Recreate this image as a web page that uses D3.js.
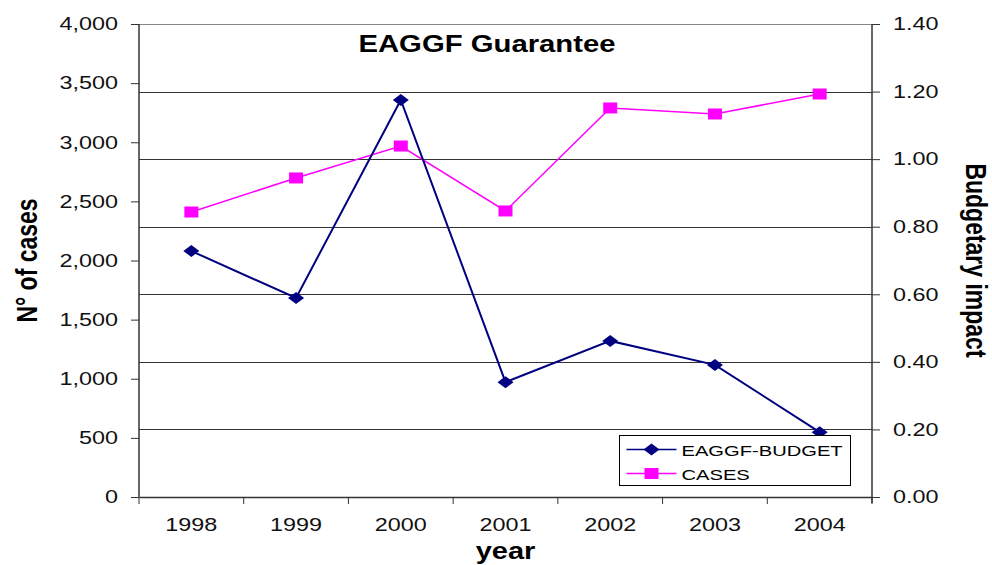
<!DOCTYPE html>
<html>
<head>
<meta charset="utf-8">
<script src="https://cdn.jsdelivr.net/npm/d3@7"></script>
<style>
body { margin: 0; background: #fff; }
svg { font-family: Arial, "Liberation Sans", sans-serif; }
</style>
</head>
<body>
<svg id="chart" width="992" height="565"></svg>
<script>
const years = ["1998", "1999", "2000", "2001", "2002", "2003", "2004"];
const budget = [0.728, 0.589, 1.175, 0.340, 0.462, 0.391, 0.192];
const cases = [2410, 2698, 2968, 2419, 3290, 3239, 3408];
const leftTicks = [0, 500, 1000, 1500, 2000, 2500, 3000, 3500, 4000];
const rightTicks = [0, 0.2, 0.4, 0.6, 0.8, 1.0, 1.2, 1.4];

const svg = d3.select("#chart");
const margin = { top: 24, right: 120, bottom: 68, left: 139 };
const width = 992, height = 565;
const sx = 1.3; // o grafico original esta esticado na horizontal

// escalas
const x = d3.scaleBand()
  .domain(years)
  .range([margin.left, width - margin.right]);

const yLeft = d3.scaleLinear()
  .domain([0, 4000])
  .range([height - margin.bottom, margin.top]);

const yRight = d3.scaleLinear()
  .domain([0, 1.4])
  .range([height - margin.bottom, margin.top]);

// linhas de grade (eixo direito)
svg.append("g")
  .selectAll("line")
  .data(rightTicks.slice(1))
  .join("line")
  .attr("x1", margin.left)
  .attr("x2", width - margin.right)
  .attr("y1", d => Math.round(yRight(d)) + 0.5)
  .attr("y2", d => Math.round(yRight(d)) + 0.5)
  .attr("stroke", (d, i) => i === rightTicks.length - 2 ? "#888" : "#333")
  .attr("stroke-width", 1);

// eixo esquerdo
const axL = svg.append("g")
  .attr("transform", `translate(${margin.left}, 0)`)
  .call(d3.axisLeft(yLeft).tickValues(leftTicks).tickFormat(d3.format(",")).tickSize(8));

// eixo direito
const axR = svg.append("g")
  .attr("transform", `translate(${width - margin.right}, 0)`)
  .call(d3.axisRight(yRight).tickValues(rightTicks).tickFormat(d3.format(".2f")).tickSize(8));

// eixo x
const axX = svg.append("g")
  .attr("transform", `translate(0, ${height - margin.bottom})`)
  .call(d3.axisBottom(x).tickSize(0));

[axL, axR, axX].forEach(a => {
  a.select(".domain").attr("stroke", "#333").attr("stroke-width", 1.5);
  a.selectAll(".tick line").attr("stroke", "#333");
  a.selectAll("text").attr("font-size", 18).attr("fill", "#111")
    .attr("font-family", "Arial, 'Liberation Sans', sans-serif");
});
axL.select(".domain").attr("d", `M0,${margin.top}V${height - margin.bottom}`);
axR.select(".domain").attr("d", `M0,${margin.top}V${height - margin.bottom + 6}`);
axL.selectAll("text").attr("x", 0).attr("transform", `translate(-21,0) scale(${sx},1)`);
axR.selectAll("text").attr("x", 0).attr("transform", `translate(21,0) scale(${sx},1)`);
axX.selectAll("text").attr("y", 34).attr("dy", 0).attr("transform", `scale(${sx},1)`);

// marcas do eixo x nas divisas das categorias
svg.append("g")
  .selectAll("line")
  .data(years.concat(["end"]))
  .join("line")
  .attr("x1", (d, i) => margin.left + i * x.step())
  .attr("x2", (d, i) => margin.left + i * x.step())
  .attr("y1", height - margin.bottom)
  .attr("y2", height - margin.bottom + 7)
  .attr("stroke", "#333");

const cx = d => x(d) + x.bandwidth() / 2;

// linha CASES
svg.append("path")
  .datum(cases)
  .attr("fill", "none")
  .attr("stroke", "#ff00ff")
  .attr("stroke-width", 1.5)
  .attr("d", d3.line().x((d, i) => cx(years[i])).y(d => yLeft(d)));

svg.append("g")
  .selectAll("rect")
  .data(cases)
  .join("rect")
  .attr("x", (d, i) => cx(years[i]) - 7)
  .attr("y", d => yLeft(d) - 5.5)
  .attr("width", 14)
  .attr("height", 11)
  .attr("fill", "#ff00ff");

// linha EAGGF-BUDGET
svg.append("path")
  .datum(budget)
  .attr("fill", "none")
  .attr("stroke", "#000080")
  .attr("stroke-width", 2)
  .attr("d", d3.line().x((d, i) => cx(years[i])).y(d => yRight(d)));

const diamond = "M0,-6L8,0L0,6L-8,0Z";
svg.append("g")
  .selectAll("path")
  .data(budget)
  .join("path")
  .attr("transform", (d, i) => `translate(${cx(years[i])},${yRight(d)})`)
  .attr("d", diamond)
  .attr("fill", "#000080");

// titulo
svg.append("text")
  .attr("transform", `translate(487, 52) scale(${sx * 0.98},1)`)
  .attr("text-anchor", "middle")
  .attr("font-size", 23).attr("font-weight", "bold")
  .text("EAGGF Guarantee");

// titulos dos eixos
const midY = (margin.top + height - margin.bottom) / 2;
svg.append("text")
  .attr("transform", `translate(37, ${midY}) rotate(-90) scale(1,${sx})`)
  .attr("text-anchor", "middle")
  .attr("font-size", 23).attr("font-weight", "bold")
  .text("N° of cases");

svg.append("text")
  .attr("transform", `translate(966, ${midY}) rotate(90) scale(1,1.25)`)
  .attr("text-anchor", "middle")
  .attr("font-size", 23).attr("font-weight", "bold")
  .text("Budgetary impact");

svg.append("text")
  .attr("transform", `translate(${(margin.left + width - margin.right) / 2}, 559) scale(${sx * 0.97},1)`)
  .attr("text-anchor", "middle")
  .attr("font-size", 23).attr("font-weight", "bold")
  .text("year");

// legenda
const legend = svg.append("g").attr("transform", "translate(619.5, 435.5)");
legend.append("rect")
  .attr("width", 231).attr("height", 50)
  .attr("fill", "#fff").attr("stroke", "#000");

const items = [
  { name: "EAGGF-BUDGET", color: "#000080", shape: "diamond" },
  { name: "CASES", color: "#ff00ff", shape: "square" }
];
items.forEach((it, i) => {
  const g = legend.append("g").attr("transform", `translate(0, ${14 + i * 24})`);
  g.append("line").attr("x1", 7).attr("x2", 57).attr("stroke", it.color).attr("stroke-width", 1.5);
  if (it.shape === "diamond") {
    g.append("path").attr("transform", "translate(32,0)").attr("d", diamond).attr("fill", it.color);
  } else {
    g.append("rect").attr("x", 25).attr("y", -5.5).attr("width", 14).attr("height", 11).attr("fill", it.color);
  }
  g.append("text").attr("transform", `translate(62, 6) scale(${sx},1)`)
    .attr("font-size", 15.5).text(it.name);
});
</script>
</body>
</html>
